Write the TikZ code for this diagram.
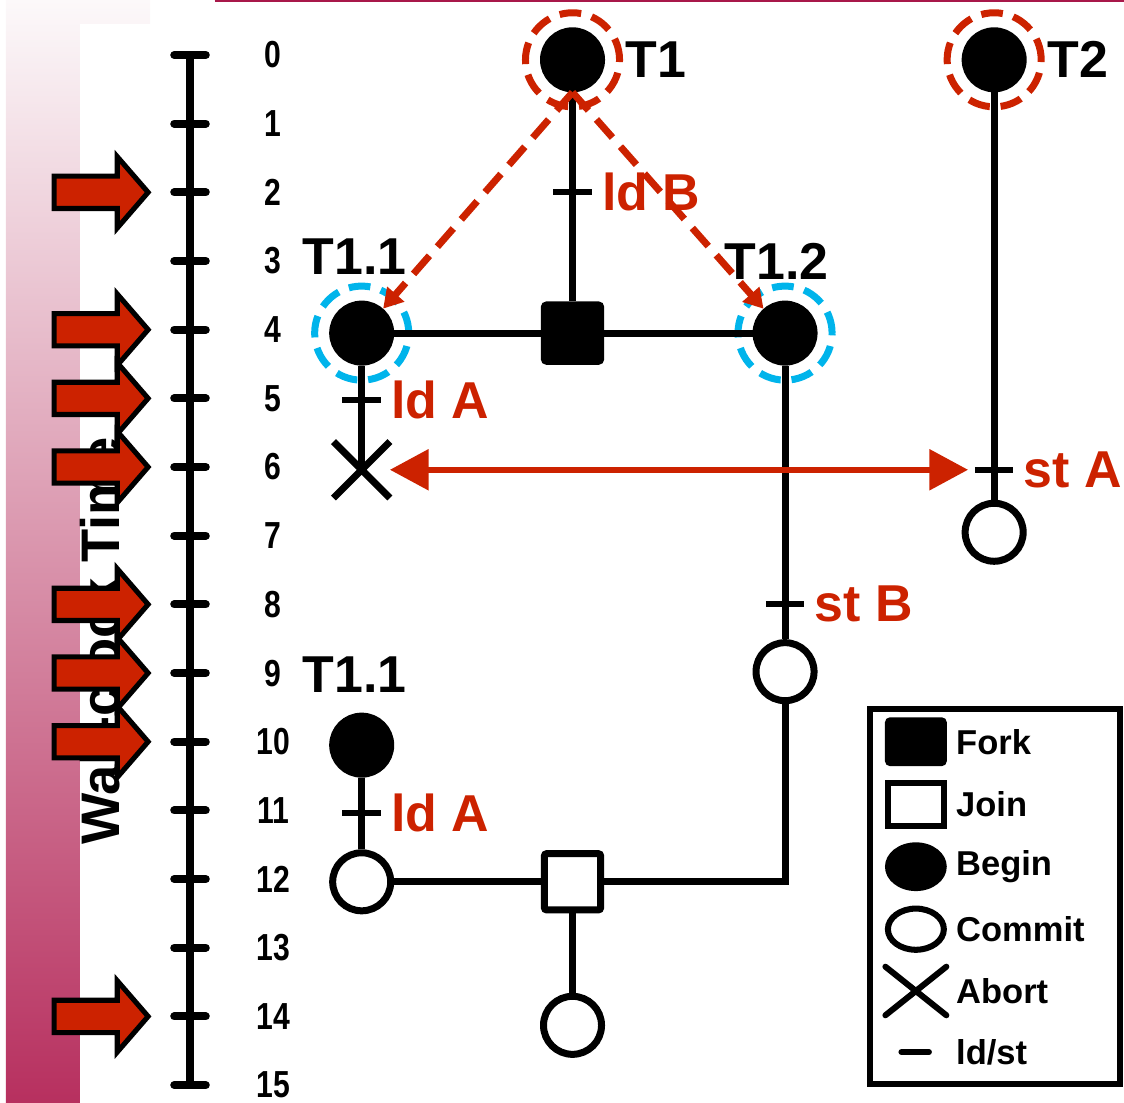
\documentclass[tikz,border=0pt]{standalone}
\usepackage{fontspec}
\setmainfont{Liberation Sans}
\newfontfamily\narrowsans[FakeStretch=0.8]{Liberation Sans}
\usetikzlibrary{arrows.meta,positioning,shapes.geometric,shapes.misc}

\definecolor{lockred}{RGB}{204,34,0}
\definecolor{ringblue}{RGB}{0,180,235}
\definecolor{rulered}{RGB}{168,24,74}
\definecolor{bartop}{RGB}{252,249,250}
\definecolor{barbottom}{RGB}{183,48,95}

\newcommand{\txfont}{\fontsize{21.5pt}{24pt}\selectfont\bfseries}
\newcommand{\tickfont}{\narrowsans\fontsize{15.6pt}{18pt}\selectfont\bfseries}
\newcommand{\keyfont}{\fontsize{14.3pt}{17pt}\selectfont\bfseries}
\newcommand{\wallfont}{\fontsize{22.5pt}{26pt}\selectfont\bfseries}

\tikzset{
  timeaxis/.style={line width=3.3pt},
  axistick/.style={line width=3.3pt, line cap=round},
  clockarrow/.style={draw=black, fill=lockred, line width=2.1pt},
  wall/.style={font=\wallfont, rotate=90, anchor=base, inner sep=0pt},
  txline/.style={line width=2.9pt},
  beginnode/.style={circle, draw, fill=black, line width=2.9pt, minimum size=0.845cm, inner sep=0pt},
  commitnode/.style={circle, draw, fill=white, line width=2.9pt, minimum size=0.845cm, inner sep=0pt},
  forknode/.style={rectangle, draw, fill=black, line width=2.9pt, rounded corners=1pt, minimum size=0.82cm, inner sep=0pt},
  joinnode/.style={forknode, fill=white},
  abortnode/.style={cross out, draw, line width=2.9pt, minimum size=0.72cm, inner sep=0pt},
  parentring/.style={circle, draw=lockred, line width=2.9pt, dash pattern=on 9pt off 4.5pt, minimum size=1.37cm, inner sep=0pt},
  childring/.style={parentring, draw=ringblue},
  txlabel/.style={font=\txfont, inner sep=1pt},
  opmark/.style={line width=2.5pt},
  oplabel/.style={font=\txfont, text=lockred, inner sep=1pt},
  lockarrow/.style={draw=lockred, line width=2.9pt, dash pattern=on 10pt off 5pt, -{Triangle[length=8pt,width=9pt]}},
  conflict/.style={draw=lockred, line width=2.5pt, {Triangle[length=16pt,width=16.5pt]}-{Triangle[length=16pt,width=16.5pt]}},
  keybox/.style={line width=2.5pt},
  keylabel/.style={font=\keyfont, anchor=west, inner sep=0pt}
}

\begin{document}
\begin{tikzpicture}
\useasboundingbox (-2.767,0.801) rectangle (13.601,-15.247);

% shaded time bar and rule at the top
\shade[top color=bartop, bottom color=barbottom] (-2.68,0.801) rectangle (-0.58,-15.247);
\fill[white] (-1.60,0.45) rectangle (-0.40,-15.3);
\draw[rulered, line width=1.2pt] (0.36,0.786) -- (13.601,0.786);

\node[wall] (wall) at (-1.02,-8.53) {Wall-clock Time};

% block arrows on the sampled steps
\foreach \t in {2,4,5,6,8,9,10,14}
  \draw[clockarrow] (-1.98,-\t+0.235) -- (-1.06,-\t+0.235) -- (-1.06,-\t+0.52)
    -- (-0.61,-\t) -- (-1.06,-\t-0.52) -- (-1.06,-\t-0.235) -- (-1.98,-\t-0.235) -- cycle;

% time line
\draw[timeaxis] (0,0) -- (0,-15);
\foreach \t in {0,...,15} {
  \draw[axistick] (-0.23,-\t) -- (0.23,-\t);
  \node[font=\tickfont] (n\t) at (1.21,-\t) {\t};
}

% rings round the transactions that hold the locks
\node[parentring] (T1ring) at (5.57,-0.07) {};
\node[parentring] (T2ring) at (11.71,-0.07) {};
\node[childring] (T11ring) at (2.5,-4.05) {};
\node[childring] (T12ring) at (8.665,-4.05) {};

% transactions
\node[beginnode] (T1) at (5.57,-0.07) {};
\node[beginnode] (T2) at (11.71,-0.07) {};
\node[forknode] (fork) at (5.57,-4.05) {};
\node[beginnode] (T11) at (2.5,-4.05) {};
\node[beginnode] (T12) at (8.665,-4.05) {};
\node[abortnode] (abort) at (2.5,-6.04) {};
\node[commitnode] (T2c) at (11.71,-6.95) {};
\node[commitnode] (T12c) at (8.665,-8.98) {};
\node[beginnode] (T11b) at (2.5,-10.05) {};
\node[commitnode] (T11c) at (2.5,-12.04) {};
\node[joinnode] (join) at (5.57,-12.04) {};
\node[commitnode] (T1c) at (5.57,-14.13) {};

\node[txlabel, right=0pt of T1ring] (T1name) {T1};
\node[txlabel, right=0pt of T2ring] (T2name) {T2};
\node[txlabel, above=2pt of T11ring, xshift=-0.1cm] (T11name) {T1.1};
\node[txlabel, above=0pt of T12ring, xshift=-0.12cm] (T12name) {T1.2};
\node[txlabel, above=7pt of T11b, xshift=-0.1cm] (T11bname) {T1.1};

\draw[txline] (T1) -- (fork);
\draw[txline] (T11) -- (fork) -- (T12);
\draw[txline] (T11) -- (abort.center);
\draw[txline] (T2) -- (T2c);
\draw[txline] (T12) -- (T12c);
\draw[txline] (T12c) |- (join);
\draw[txline] (T11b) -- (T11c) -- (join) -- (T1c);

% loads and stores
\foreach \x/\t/\op/\name in {5.57/2/ld B/ldB, 2.5/5.02/ld A/ldA, 11.71/6.04/st A/stA,
    8.665/8/st B/stB, 2.5/11.04/ld A/ldAb}
  \draw[opmark] (\x-0.28,-\t) -- (\x+0.28,-\t) node[oplabel, right=2pt] (\name) {\op};

% lock handover and conflict
\draw[lockarrow] (T1.south) -- (T11);
\draw[lockarrow] (T1.south) -- (T12);
\coordinate (stAend) at (11.33,-6.04);
\draw[conflict] (abort) -- (stAend);

% key
\draw[keybox] (9.90,-9.52) rectangle (13.54,-14.99);
\node[rectangle, fill=black, rounded corners=2pt, minimum width=0.9cm, minimum height=0.71cm, inner sep=0pt] (keyfork) at (10.57,-10.0) {};
\node[rectangle, draw, line width=2.5pt, minimum width=0.815cm, minimum height=0.63cm, inner sep=0pt] (keyjoin) at (10.57,-10.91) {};
\node[ellipse, fill=black, minimum width=0.9cm, minimum height=0.71cm, inner sep=0pt] (keybegin) at (10.57,-11.82) {};
\node[ellipse, draw, line width=2.5pt, minimum width=0.815cm, minimum height=0.6cm, inner sep=0pt] (keycommit) at (10.57,-12.73) {};
\node[cross out, draw, line width=2.5pt, line cap=round, minimum width=0.8cm, minimum height=0.62cm, inner sep=0pt] (keyabort) at (10.57,-13.63) {};
\draw[line width=2.5pt, line cap=round] (10.36,-14.52) -- (10.76,-14.52);
\foreach \t/\txt/\name in {10.0/Fork/fork, 10.91/Join/join, 11.82/Begin/begin,
    12.73/Commit/commit, 13.63/Abort/abort, 14.52/{ld/st}/ldst}
  \node[keylabel] (key\name text) at (11.15,-\t) {\txt};
\end{tikzpicture}
\end{document}
